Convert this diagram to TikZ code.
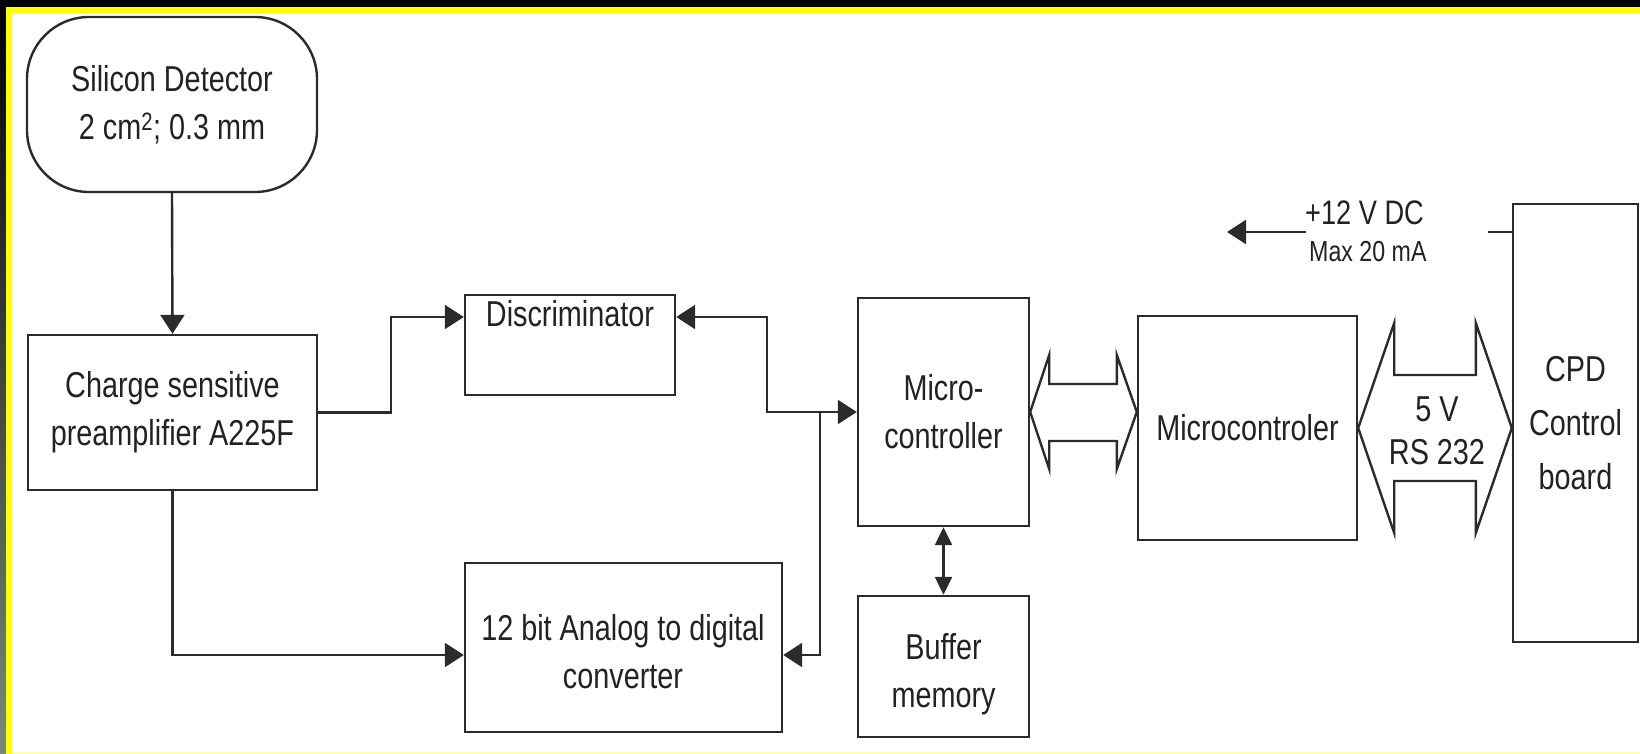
\documentclass[tikz,border=0pt]{standalone}
\usepackage{fontspec}
\setmainfont{Liberation Sans}[FakeStretch=0.8]
\usetikzlibrary{arrows.meta,calc}
\definecolor{ln}{HTML}{2B2B2B}
\definecolor{txt}{HTML}{222222}
\definecolor{ylw}{HTML}{FFFF00}
\definecolor{stripblue}{HTML}{5A50D8}
\definecolor{stripgray}{HTML}{7A8A78}
\begin{document}
\begin{tikzpicture}[x=1pt,y=-1pt,
  box/.style={draw=ln,line width=2.4pt,fill=white,inner sep=0pt,align=center,
              font=\fontsize{36}{48}\selectfont,text=txt},
  lbl/.style={inner sep=0pt,align=center,font=\fontsize{36}{48}\selectfont,text=txt},
  wire/.style={draw=ln,line width=2.4pt},
  arr/.style={wire,-{Triangle[length=19pt,width=24pt]}},
  darr/.style={wire,{Triangle[length=19pt,width=24pt]}-{Triangle[length=19pt,width=24pt]}},
  sdarr/.style={wire,{Triangle[length=18pt,width=17pt]}-{Triangle[length=18pt,width=17pt]}},
  hol/.style={draw=ln,line width=2.4pt,fill=white,line join=miter}
]
\useasboundingbox (0,0) rectangle (1640,754);
% frame
\fill[black] (0,0) rectangle (1640,13);
\shade[top color=black, middle color=stripblue, bottom color=stripgray] (0,0) rectangle (6,754);
\fill[ylw] (6,7) rectangle (1640,13);
\fill[ylw] (6,7) rectangle (12,754);
\fill[white] (12,13) rectangle (1640,754);
\fill[ylw!30] (12,752) rectangle (1640,754);

% nodes
\node[box,minimum width=290pt,minimum height=175pt,rounded corners=62pt] (det) at (172,104.5)
  {Silicon Detector\\2 cm\textsuperscript{2}; 0.3 mm};
\node[box,minimum width=289pt,minimum height=155pt] (pre) at (172.5,412.5)
  {Charge sensitive\\preamplifier A225F};
\node[box,minimum width=210pt,minimum height=100pt] (disc) at (570,345) {};
\node[lbl] (disct) at (570,314) {Discriminator};
\node[box,minimum width=317pt,minimum height=169pt] (adc) at (623.5,647.5) {};
\node[lbl] (adct) at (623,652) {12 bit Analog to digital\\converter};
\node[box,minimum width=171pt,minimum height=228pt] (mc) at (943.5,412)
  {Micro-\\controller};
\node[box,minimum width=171pt,minimum height=141pt] (buf) at (943.5,666.5) {};
\node[lbl] (buft) at (943.5,674) {Buffer\\memory};
\node[box,minimum width=219pt,minimum height=224pt] (mcr) at (1247.5,428)
  {Microcontroler};
\node[box,minimum width=125pt,minimum height=438pt,font=\fontsize{36}{54}\selectfont] (cpd) at (1575.5,423)
  {CPD\\Control\\board};

% connectors
\draw[arr] (det.south) -- (pre.north);
\coordinate (j1) at (391,317);
\draw[arr] (pre.east) -| (j1) -- ([yshift=28pt]disc.west);
\coordinate (j2) at (767,412);
\draw[darr] ([yshift=28pt]disc.east) -| (j2) -- (mc.west);
\coordinate (j3) at (820,412);
\draw[arr] (j3) |- ([yshift=-7.5pt]adc.east);
\draw[arr] (pre.south) |- ([yshift=-7.5pt]adc.west);
\draw[sdarr] (mc.south) -- (buf.north);

% hollow double arrows
\draw[hol] let \p1=(mc.east), \p2=(mc.east -| mcr.west) in
  (\p1) -- (\x1+19pt,\y1+57pt) -- (\x1+19pt,\y1+28pt) -- (\x2-20pt,\y1+28pt)
  -- (\x2-20pt,\y1+57pt) -- (\p2) -- (\x2-20pt,\y1-57pt) -- (\x2-20pt,\y1-29pt)
  -- (\x1+19pt,\y1-29pt) -- (\x1+19pt,\y1-57pt) -- cycle;
\draw[hol] let \p1=(mcr.east), \p2=(mcr.east -| cpd.west) in
  (\p1) -- (\x1+36pt,\y1+105pt) -- (\x1+36pt,\y1+53pt) -- (\x2-36pt,\y1+53pt)
  -- (\x2-36pt,\y1+105pt) -- (\p2) -- (\x2-36pt,\y1-105pt) -- (\x2-36pt,\y1-53pt)
  -- (\x1+36pt,\y1-53pt) -- (\x1+36pt,\y1-105pt) -- cycle;
\node[lbl,font=\fontsize{36}{43}\selectfont] (rs) at (1437,431) {5 V\\RS 232};

% power supply
\node[lbl,anchor=west,font=\fontsize{34}{40}\selectfont] (v12) at (1305,213) {+12 V DC};
\node[lbl,anchor=west,font=\fontsize{29}{34}\selectfont] (ma) at (1309,252) {Max 20 mA};
\coordinate (pw) at (1306,232);
\coordinate (pend) at (1227,232);
\draw[arr] (pw) -- (pend);
\coordinate (cs) at (1488,232);
\draw[wire] (cs) -- (cs -| cpd.west);
\end{tikzpicture}
\end{document}
